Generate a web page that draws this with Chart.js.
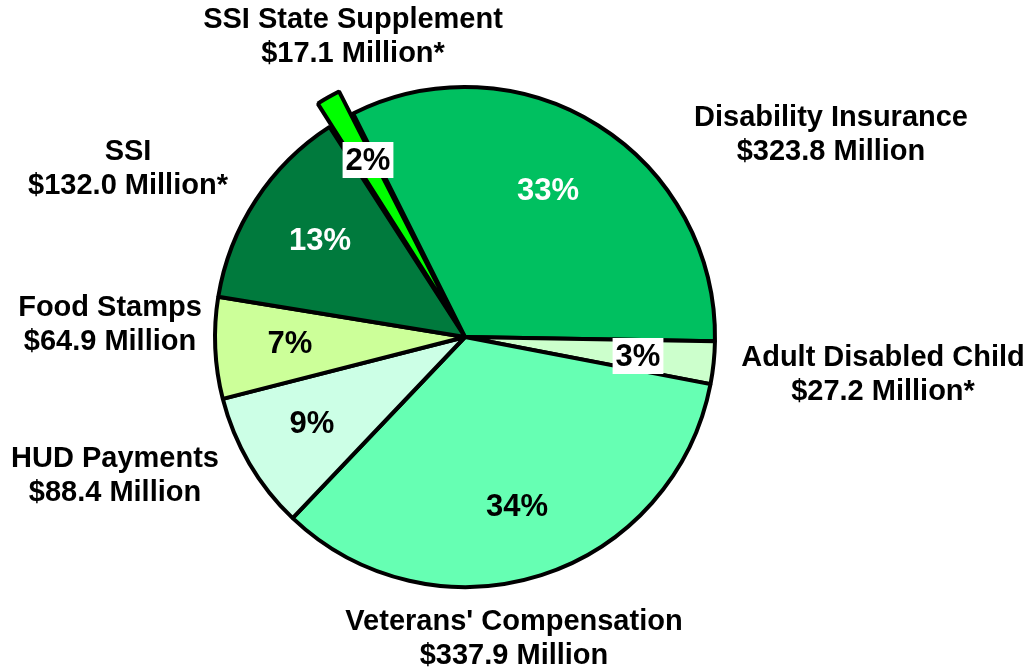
<!DOCTYPE html>
<html>
<head>
<meta charset="utf-8">
<script src="https://cdn.jsdelivr.net/npm/chart.js@4/dist/chart.umd.min.js"></script>
<style>
  html, body { margin:0; padding:0; background:#fff; }
  #wrap { width:1034px; height:671px; position:relative; }
</style>
</head>
<body>
<div id="wrap"><canvas id="pie" width="1034" height="671"></canvas></div>
<script>
// data, clockwise from the Disability Insurance slice
const categories = ['Disability Insurance','Adult Disabled Child',"Veterans' Compensation",'HUD Payments','Food Stamps','SSI','SSI State Supplement'];
const amounts    = [323.8, 27.2, 337.9, 88.4, 64.9, 132.0, 17.1];   // $ millions
const starred    = [false, true, false, false, false, true, true];

const sliceColors = ['#00C060','#CCFFCC','#66FFB3','#CCFFE6','#CCFF99','#007A3D','#00FF00'];
const pctColors   = ['#fff','#000','#000','#000','#000','#fff','#000'];
const pctBoxed    = [false, true, false, false, false, false, true];

// label anchors, offsets from pie centre (px)
const pctPos  = [[83,-147],[173,19],[52,169],[-153,86],[-175,6],[-145,-97],[-97,-177]];
const namePos = [[366,-219],[418,21],[49,285],[-350,122],[-355,-29],[-337,-185],[-112,-317]];

const total = amounts.reduce((a,b) => a+b, 0);

const labelPlugin = {
  id: 'sliceLabels',
  afterDatasetsDraw(chart) {
    const ctx = chart.ctx;
    const arcs = chart.getDatasetMeta(0).data;
    const cx = arcs[0].x, cy = arcs[0].y;
    ctx.save();
    ctx.textAlign = 'center';
    ctx.textBaseline = 'middle';

    // percentages inside the slices
    ctx.font = 'bold 31px "Liberation Sans", Arial, sans-serif';
    amounts.forEach((v, i) => {
      const txt = Math.round(v / total * 100) + '%';
      const x = cx + pctPos[i][0], y = cy + pctPos[i][1];
      if (pctBoxed[i]) {
        const w = ctx.measureText(txt).width + 6;
        ctx.fillStyle = '#fff';
        ctx.fillRect(x - w/2, y - 18, w, 36);
      }
      ctx.fillStyle = pctColors[i];
      ctx.fillText(txt, x, y + 1);
    });

    // names and amounts outside
    ctx.font = 'bold 29px "Liberation Sans", Arial, sans-serif';
    ctx.fillStyle = '#000';
    categories.forEach((name, i) => {
      const x = cx + namePos[i][0], y = cy + namePos[i][1];
      ctx.fillText(name, x, y);
      ctx.fillText('$' + amounts[i].toFixed(1) + ' Million' + (starred[i] ? '*' : ''), x, y + 34);
    });
    ctx.restore();
  }
};

new Chart(document.getElementById('pie'), {
  type: 'pie',
  data: {
    labels: categories,
    datasets: [{
      data: amounts,
      backgroundColor: sliceColors,
      borderColor: '#000',
      borderWidth: 4,
      offset: [0,0,0,0,0,0,55]
    }]
  },
  options: {
    responsive: false,
    animation: false,
    rotation: -26.6,
    radius: 250,
    layout: { padding: { left: 0, right: 104, top: 3, bottom: 0 } },
    plugins: {
      legend: { display: false },
      tooltip: { enabled: false }
    }
  },
  plugins: [labelPlugin]
});
</script>
</body>
</html>
